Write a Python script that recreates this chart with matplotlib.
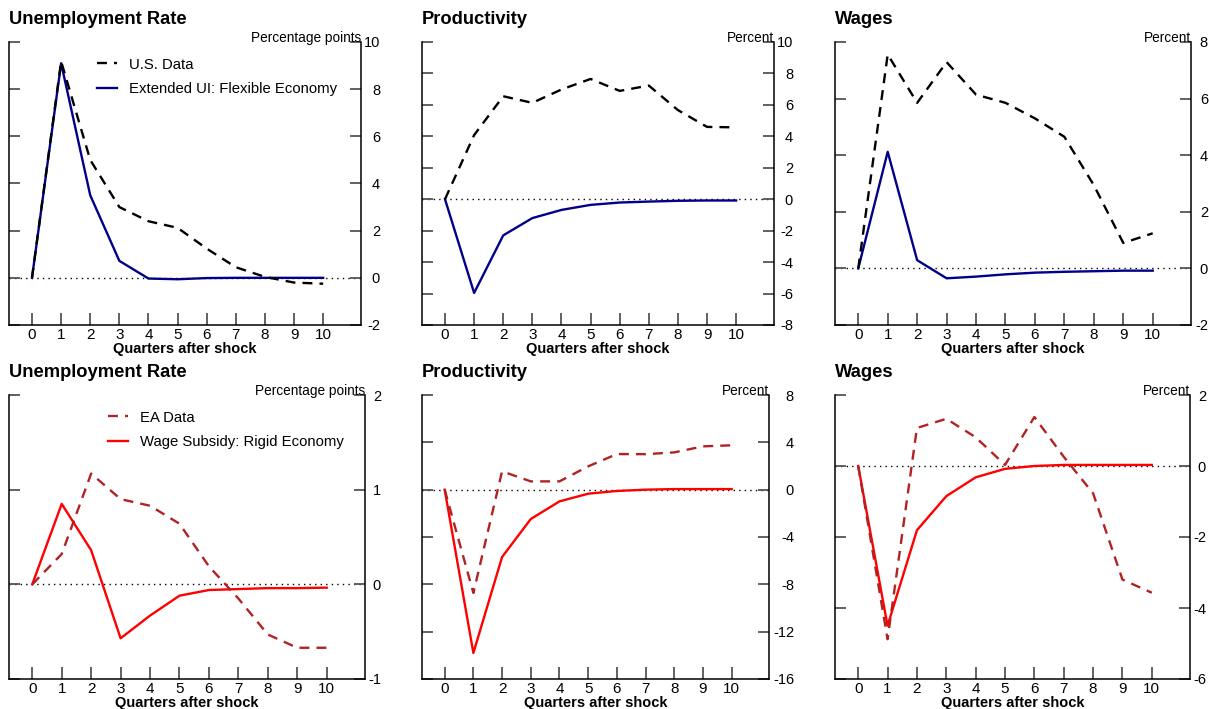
import matplotlib.pyplot as plt

plt.rcParams["font.family"] = ["Liberation Sans", "DejaVu Sans"]
plt.rcParams["axes.unicode_minus"] = False

quarters = list(range(11))

# top row: U.S. data vs. extended UI in a flexible economy
us_unemp = [0, 9.18, 5.0, 3.0, 2.4, 2.12, 1.24, 0.45, 0.04, -0.2, -0.25]
ui_unemp = [0, 9.1, 3.5, 0.72, -0.03, -0.06, -0.01, 0.0, 0.0, 0.0, 0.0]
us_prod = [0, 4.08, 6.55, 6.13, 6.98, 7.65, 6.89, 7.23, 5.67, 4.6, 4.57]
ui_prod = [0, -5.96, -2.3, -1.2, -0.68, -0.36, -0.21, -0.15, -0.1, -0.08, -0.08]
us_wage = [0, 7.56, 5.85, 7.29, 6.14, 5.85, 5.3, 4.65, 2.94, 0.9, 1.24]
ui_wage = [0, 4.12, 0.29, -0.35, -0.29, -0.21, -0.15, -0.12, -0.1, -0.08, -0.08]

# bottom row: euro area data vs. wage subsidy in a rigid economy
ea_unemp = [0, 0.32, 1.17, 0.9, 0.83, 0.64, 0.19, -0.15, -0.53, -0.67, -0.67]
ws_unemp = [0, 0.85, 0.36, -0.57, -0.33, -0.12, -0.06, -0.05, -0.04, -0.04, -0.035]
ea_prod = [0, -8.73, 1.55, 0.7, 0.7, 1.97, 3.01, 3.0, 3.15, 3.66, 3.75]
ws_prod = [0, -13.8, -5.69, -2.48, -0.99, -0.34, -0.11, 0.0, 0.05, 0.05, 0.05]
ea_wage = [0, -4.88, 1.07, 1.33, 0.81, 0.03, 1.38, 0.26, -0.77, -3.2, -3.57]
ws_wage = [0, -4.5, -1.81, -0.85, -0.32, -0.08, 0.0, 0.03, 0.03, 0.03, 0.03]

W, H = 1209, 709
DASH = (0, (4.2, 3.0))


def panel(fig, box, title, unit, data, model, ylim, yticks, dcol, mcol,
          lab_px=19, labels=None, leg_x=0.25):
    l, t, r, b = box
    ax = fig.add_axes([l / W, 1 - b / H, (r - l) / W, (b - t) / H])
    ax.axhline(0, color="black", lw=1, ls=(0, (1, 3)), zorder=1)
    ax.plot(quarters, data, color=dcol, lw=1.7, ls=DASH, label=labels and labels[0], zorder=3)
    ax.plot(quarters, model, color=mcol, lw=1.7, label=labels and labels[1], zorder=2)
    ax.set_xlim(-0.79, 11.3)
    ax.set_ylim(*ylim)
    ax.set_xticks(quarters)
    ax.set_yticks(yticks)
    ax.spines["top"].set_visible(False)
    for s in ("left", "right", "bottom"):
        ax.spines[s].set_linewidth(1.1)
    # right-hand labels are right-aligned, so pad is to their right edge
    ax.tick_params(axis="y", which="both", left=True, right=True, labelleft=False,
                   labelright=True, direction="in", length=8, width=1.3,
                   color="#555555", labelsize=10.5, pad=lab_px * 0.72)
    for lab in ax.get_yticklabels(which="both"):
        lab.set_horizontalalignment("right")
    ax.tick_params(axis="x", direction="in", length=8.5, width=1.3, color="#555555",
                   labelsize=11, pad=2.5)
    ax.set_xlabel("Quarters after shock", fontsize=10.5, fontweight="bold", labelpad=0)
    ax.text(0, 1.05, title, transform=ax.transAxes, fontsize=13.2, fontweight="bold",
            ha="left", va="bottom")
    ax.text(1, 1.0, unit, transform=ax.transAxes, fontsize=9.8, ha="right",
            va="baseline")
    if labels:
        ax.legend(loc="upper left", bbox_to_anchor=(leg_x, 0.945), frameon=False,
                  fontsize=10.7, handlelength=1.35, handletextpad=0.8,
                  labelspacing=0.72, borderpad=0, borderaxespad=0)
    return ax


fig = plt.figure(figsize=(W / 100, H / 100), dpi=100)

top, bot = (42, 325), (395, 679)
panel(fig, (9, top[0], 361, top[1]), "Unemployment Rate", "Percentage points",
      us_unemp, ui_unemp, (-2, 10), range(-2, 11, 2), "black", "#00008b",
      labels=["U.S. Data", "Extended UI: Flexible Economy"], leg_x=0.25)
panel(fig, (422, top[0], 774, top[1]), "Productivity", "Percent",
      us_prod, ui_prod, (-8, 10), range(-8, 11, 2), "black", "#00008b")
panel(fig, (835, top[0], 1191, top[1]), "Wages", "Percent",
      us_wage, ui_wage, (-2, 8), range(-2, 9, 2), "black", "#00008b", lab_px=17)

panel(fig, (9, bot[0], 365, bot[1]), "Unemployment Rate", "Percentage points",
      ea_unemp, ws_unemp, (-1, 2), range(-1, 3), "#b22222", "#ff0000", lab_px=16,
      labels=["EA Data", "Wage Subsidy: Rigid Economy"], leg_x=0.278)
panel(fig, (422, bot[0], 769, bot[1]), "Productivity", "Percent",
      ea_prod, ws_prod, (-16, 8), range(-16, 9, 4), "#b22222", "#ff0000", lab_px=25)
panel(fig, (835, bot[0], 1190, bot[1]), "Wages", "Percent",
      ea_wage, ws_wage, (-6, 2), range(-6, 3, 2), "#b22222", "#ff0000", lab_px=16)

fig.savefig("out.png", dpi=100)
